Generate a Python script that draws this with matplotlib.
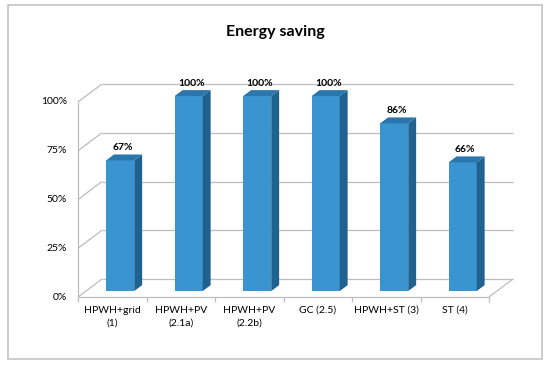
import matplotlib
matplotlib.use("Agg")
import matplotlib.pyplot as plt
from matplotlib.patches import Polygon, Rectangle

plt.rcParams['font.family'] = ['Lato', 'DejaVu Sans']

categories = ["HPWH+grid\n(1)", "HPWH+PV\n(2.1a)", "HPWH+PV\n(2.2b)", "GC (2.5)", "HPWH+ST (3)", "ST (4)"]
values = [0.67, 1.00, 1.00, 1.00, 0.86, 0.66]
value_labels = ["67%", "100%", "100%", "100%", "86%", "66%"]
yticks = [0, 0.25, 0.5, 0.75, 1.0]
ytick_labels = ["0%", "25%", "50%", "75%", "100%"]

W, H = 550, 369
fig = plt.figure(figsize=(W / 100, H / 100), dpi=100)

# chart border
fig.patches.append(Rectangle((8 / W, 1 - 359 / H), 534 / W, 354 / H, transform=fig.transFigure,
                             fill=False, edgecolor='#c4c4c4', lw=1.2))

fig.text(0.5, 1 - 32 / H, "Energy saving", ha='center', va='center', fontsize=11.5, fontweight='bold')

# front plane of the plot area, in pixels
x0, x1, y0, y1 = 78, 489, 297, 102
ax = fig.add_axes([x0 / W, 1 - y0 / H, (x1 - x0) / W, (y0 - y1) / H])
n = len(categories)
ax.set_xlim(-0.5, n - 0.5)
ax.set_ylim(0, 1)
ax.axis('off')

# depth offsets (full depth) in data units
DX = 24 / ((x1 - x0) / n)
DY = 18 / (y0 - y1)
grid = '#bdbdbd'

def line(xs, ys, **kw):
    ax.plot(xs, ys, color=grid, lw=0.9, clip_on=False, solid_capstyle='butt', **kw)

# back wall + left wall gridlines
for t in yticks:
    line([-0.5 + DX, n - 0.5 + DX], [t + DY, t + DY])
    line([-0.5, -0.5 + DX], [t, t + DY])
# floor
line([-0.5, n - 0.5], [0, 0])
line([n - 0.5, n - 0.5 + DX], [0, DY])
line([-0.5, -0.5], [0, 1])
# category ticks
for k in range(n + 1):
    line([-0.5 + k, -0.5 + k], [0, -0.025])

for t, lab in zip(yticks, ytick_labels):
    ax.text(-0.5 - 0.16, t, lab, ha='right', va='center', fontsize=7.5, clip_on=False)

# category labels, each line centred on its own
for i, lab in enumerate(categories):
    for j, part in enumerate(lab.split("\n")):
        ax.text(i, -0.045 - j * 0.068, part, ha='center', va='top', fontsize=7.5, clip_on=False)

# 3d bars
w = 0.41
d0, d1 = 0.33, 0.66
front_c, side_c, top_c = '#3a94cf', '#1f618f', '#2b76ad'
for i, v in enumerate(values):
    a, b = i - w / 2, i + w / 2
    ox0, oy0 = d0 * DX, d0 * DY
    ox1, oy1 = d1 * DX, d1 * DY
    front = Polygon([(a + ox0, oy0), (b + ox0, oy0), (b + ox0, v + oy0), (a + ox0, v + oy0)],
                    closed=True, facecolor=front_c, edgecolor='none', clip_on=False, zorder=3)
    side = Polygon([(b + ox0, oy0), (b + ox1, oy1), (b + ox1, v + oy1), (b + ox0, v + oy0)],
                   closed=True, facecolor=side_c, edgecolor='none', clip_on=False, zorder=3)
    top = Polygon([(a + ox0, v + oy0), (b + ox0, v + oy0), (b + ox1, v + oy1), (a + ox1, v + oy1)],
                  closed=True, facecolor=top_c, edgecolor='none', clip_on=False, zorder=3)
    for p in (front, side, top):
        ax.add_patch(p)
    ax.text(i + (ox0 + ox1) / 2 - 0.02, v + oy1 + 0.012, value_labels[i], ha='center', va='bottom',
            fontsize=7.5, fontweight='bold', clip_on=False, zorder=4)

fig.savefig("out.png", dpi=100)
